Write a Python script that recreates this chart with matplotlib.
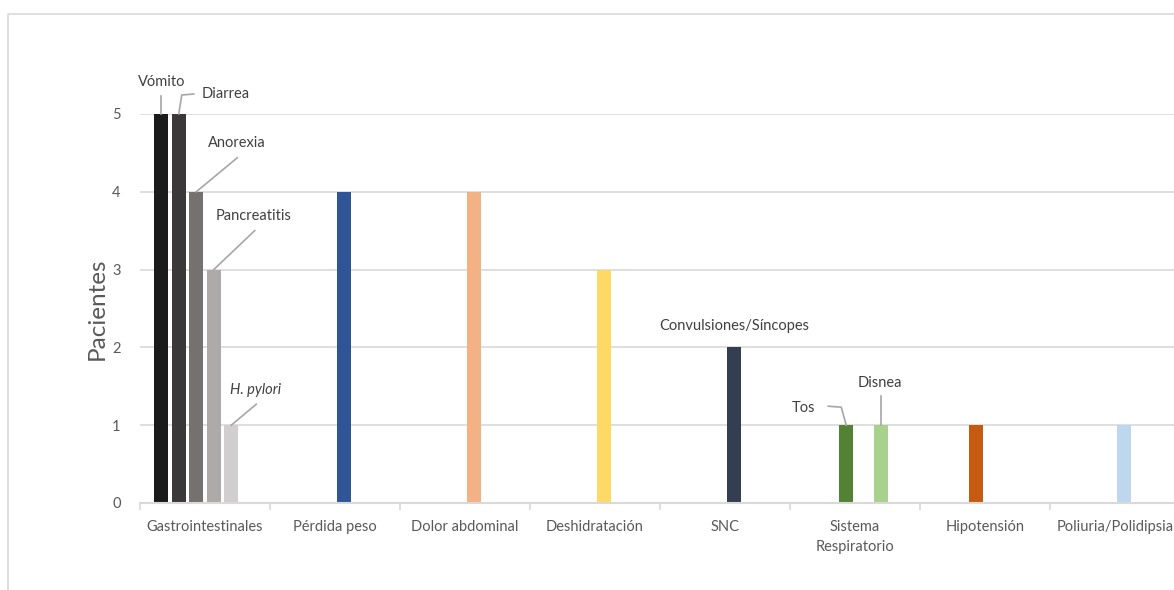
import matplotlib.pyplot as plt
from matplotlib.lines import Line2D

# datos del grafico
categorias = ['Gastrointestinales', 'Pérdida peso', 'Dolor abdominal', 'Deshidratación',
              'SNC', 'Sistema\nRespiratorio', 'Hipotensión', 'Poliuria/Polidipsia']

sintomas = ['Vómito', 'Diarrea', 'Anorexia', 'Pancreatitis', 'H. pylori',
            'Pérdida peso', 'Dolor abdominal', 'Deshidratación', 'Convulsiones/Síncopes',
            'Tos', 'Disnea', 'Hipotensión', 'Poliuria/Polidipsia']
pacientes = [5, 5, 4, 3, 1, 4, 4, 3, 2, 1, 1, 1, 1]
categoria_idx = [0, 0, 0, 0, 0, 1, 2, 3, 4, 5, 5, 6, 7]
serie_idx = [-2.5, -1.5, -0.5, 0.5, 1.5, 0.5, 0.5, 0.5, 0.5, -0.5, 1.5, -0.5, 0.5]

colores = ['#1b1b1b', '#3a3838', '#767171', '#aeaaaa', '#d0cece', '#2f5597', '#f4b183',
           '#ffd966', '#333f50', '#548235', '#a9d18e', '#c55a11', '#bdd7ee']

plt.rcParams['font.family'] = ['Lato', 'DejaVu Sans']

fig = plt.figure(figsize=(11.74, 5.9), dpi=100)
W, H = 1174, 590
ax = fig.add_axes([140 / W, 87 / H, 1040 / W, 389 / H])

paso = 17.5 / 130
ancho = 14 / 130
xs = [c + s * paso for c, s in zip(categoria_idx, serie_idx)]
barras = ax.bar(xs, pacientes, width=ancho, color=colores, zorder=3)

ax.set_xlim(-0.5, 7.5)
ax.set_ylim(0, 5)
ax.set_yticks(range(0, 6))
ax.yaxis.grid(True, color='#d9d9d9', linewidth=1.2, zorder=0)
ax.tick_params(axis='y', length=0, pad=14, labelsize=10.5, labelcolor='#595959')

ax.set_xticks(range(len(categorias)))
ax.set_xticklabels(categorias, fontsize=10.5, color='#595959', linespacing=1.55)
ax.set_xticks([i - 0.5 for i in range(len(categorias) + 1)], minor=True)
ax.tick_params(axis='x', which='major', length=0, pad=12)
ax.tick_params(axis='x', which='minor', length=5, width=1.2, color='#d9d9d9')

for lado in ['top', 'right', 'left']:
    ax.spines[lado].set_visible(False)
ax.spines['bottom'].set_color('#d9d9d9')
ax.spines['bottom'].set_linewidth(1.5)
ax.spines['bottom'].set_zorder(4)

ax.set_ylabel('Pacientes', fontsize=17.5, color='#595959')
ax.yaxis.set_label_coords(-32 / 1040, 0.5)

# etiquetas con lineas guia (desplazamientos en pixeles, y hacia abajo)
etiquetas = {
    'Vómito': ([(0, 0), (0, -18)], (0, -32)),
    'Diarrea': ([(0, 0), (3, -19), (15, -20)], (47, -20)),
    'Anorexia': ([(0, 0), (41, -34)], (41, -49)),
    'Pancreatitis': ([(0, 0), (41, -39)], (40, -54)),
    'H. pylori': ([(0, 0), (25, -21)], (24, -35)),
    'Convulsiones/Síncopes': ([], (0, -21)),
    'Tos': ([(0, 0), (-5, -18), (-18, -19)], (-43, -17)),
    'Disnea': ([(0, 0), (0, -29)], (-1, -42)),
}

fig.canvas.draw()
for nombre, (guia, pos) in etiquetas.items():
    b = barras[sintomas.index(nombre)]
    x0, y0 = ax.transData.transform((b.get_x() + b.get_width() / 2, b.get_height()))
    if guia:
        fig.add_artist(Line2D([x0 + dx for dx, dy in guia], [y0 - dy for dx, dy in guia],
                              transform=None, color='#a6a6a6', linewidth=1.2))
    estilo = 'italic' if nombre == 'H. pylori' else 'normal'
    fig.text((x0 + pos[0]) / W, (y0 - pos[1]) / H, nombre, ha='center', va='center',
             fontsize=10.5, color='#404040', style=estilo)

# borde del area del grafico
fig.add_artist(Line2D([8 / W, 8 / W, 1], [0, 1 - 14 / H, 1 - 14 / H],
                      transform=fig.transFigure, color='#d9d9d9', linewidth=1.2))

fig.savefig('out.png', dpi=100)
